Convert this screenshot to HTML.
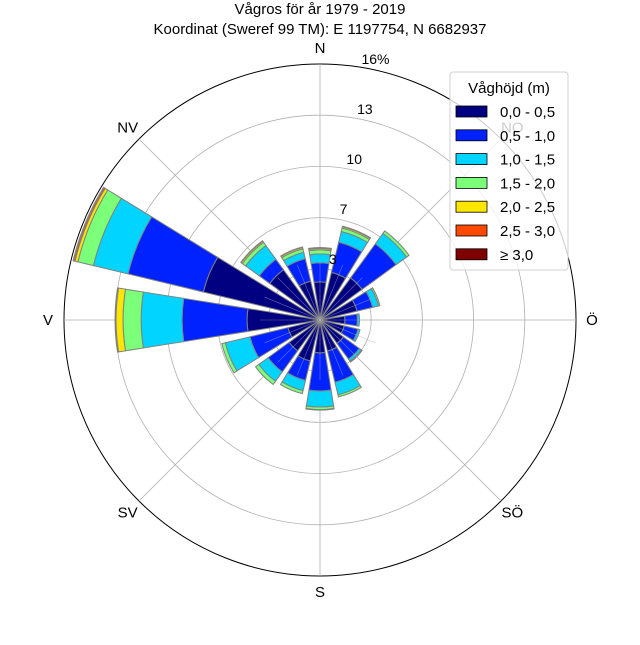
<!DOCTYPE html>
<html><head><meta charset="utf-8"><style>
body{margin:0;background:#fff;}
svg text{font-family:"Liberation Sans",sans-serif;fill:#000;}
</style></head><body>
<svg id="c" width="640" height="640" viewBox="0 0 640 640" xmlns="http://www.w3.org/2000/svg">
<rect width="640" height="640" fill="#fff"/>
<text x="320" y="14" font-size="15" text-anchor="middle">Vågros för år 1979 - 2019</text>
<text x="320" y="34" font-size="15" text-anchor="middle">Koordinat (Sweref 99 TM): E 1197754, N 6682937</text>
<g id="grid"></g>
<g id="bars"></g>
<g id="labels"></g>
<g id="legend"></g>
</svg>
<script>
const directions = ["N","NNE","NE","ENE","E","ESE","SE","SSE","S","SSW","SW","WSW","W","WNW","NW","NNW"];
const binLabels = ["0,0 - 0,5","0,5 - 1,0","1,0 - 1,5","1,5 - 2,0","2,0 - 2,5","2,5 - 3,0","≥ 3,0"];
const binColors = ["#000080","#0022ff","#00d4ff","#7cff79","#ffe600","#ff4800","#800000"];
const bin0 = [2.38,3.06,3.25,2.38,1.56,1.56,1.81,2.0,2.06,2.63,2.38,2.06,4.56,7.5,3.88,2.5];
const bin1 = [1.19,1.94,2.63,1.0,0.78,0.88,1.22,2.0,2.38,1.25,1.63,2.44,4.06,4.84,0.81,1.44];
const bin2 = [0.56,0.69,0.81,0.38,0.13,0.13,0.16,0.81,1.0,0.66,0.72,1.59,2.56,2.22,1.06,0.41];
const bin3 = [0.25,0.22,0.19,0.09,0.0,0.0,0.06,0.13,0.16,0.19,0.25,0.22,1.13,1.0,0.25,0.22];
const bin4 = [0.09,0.08,0.0,0.0,0.0,0.0,0.0,0.0,0.03,0.0,0.0,0.0,0.44,0.19,0.09,0.09];
const bin5 = [0.03,0.03,0.0,0.0,0.0,0.0,0.0,0.0,0.0,0.0,0.0,0.0,0.03,0.09,0.03,0.03];
const bin6 = [0.03,0.01,0.0,0.0,0.0,0.0,0.0,0.0,0.0,0.0,0.0,0.0,0.03,0.03,0.0,0.0];
const bins = [bin0,bin1,bin2,bin3,bin4,bin5,bin6];
const rTicks = [3.2,6.4,9.6,12.8,16];
const rTickLabels = ["3","7","10","13","16%"];
const compassLabels = ["N","NO","Ö","SÖ","S","SV","V","NV"];

const NS="http://www.w3.org/2000/svg";
const cx=320, cy=320, R=256, rMax=16;
const rScale = v => v/rMax*R;
const pt = (deg,r) => [cx + r*Math.sin(deg*Math.PI/180), cy - r*Math.cos(deg*Math.PI/180)];
function mk(tag, parent, attrs){const e=document.createElementNS(NS,tag);for(const k in attrs)e.setAttribute(k,attrs[k]);parent.appendChild(e);return e;}

const grid=document.getElementById('grid');
rTicks.forEach((t,i)=>{
  const c=mk('circle',grid,{cx:cx,cy:cy,r:rScale(t),fill:'none',stroke:i===rTicks.length-1?'#000':'#b0b0b0','stroke-width':i===rTicks.length-1?1:0.8});
  
  
});
for(let a=0;a<360;a+=45){
  const p=pt(a,R);
  const l=mk('line',grid,{x1:cx,y1:cy,x2:p[0],y2:p[1],stroke:'#b0b0b0','stroke-width':0.8});
  
  
}

const bars=document.getElementById('bars');
const step=360/directions.length, half=step*0.4;
function sector(a,r0,r1){
  const a0=a-half,a1=a+half;
  const p0=pt(a0,r1),p1=pt(a1,r1),p2=pt(a1,r0),p3=pt(a0,r0);
  return `M${p0[0]},${p0[1]} A${r1},${r1} 0 0 1 ${p1[0]},${p1[1]} L${p2[0]},${p2[1]} `+(r0>0?`A${r0},${r0} 0 0 0 ${p3[0]},${p3[1]} `:'')+'Z';
}
directions.forEach((d,i)=>{
  const a=i*step; let cum=0;
  bins.forEach((b,j)=>{
    const v=b[i]; if(v<=0) return;
    const r0=rScale(cum), r1=rScale(cum+v); cum+=v;
    const p=mk('path',bars,{d:sector(a,r0,r1),fill:binColors[j],stroke:'#808080','stroke-width':1});
    
    
  });
});
// radial spokes over bars (matplotlib draws grid above)
for(let a=0;a<360;a+=22.5){
  const p=pt(a,60);
  const l=mk('line',bars,{x1:cx,y1:cy,x2:p[0],y2:p[1],stroke:'#b0b0b0','stroke-width':0.6,opacity:0.6});
  
  
}

const labels=document.getElementById('labels');
compassLabels.forEach((t,i)=>{
  const p=pt(i*45,R+16);
  const e=mk('text',labels,{x:p[0],y:p[1]+5,'font-size':15,'text-anchor':'middle'});
  e.textContent=t;
  
  
});
rTicks.forEach((t,i)=>{
  const p=pt(12,rScale(t)+11);
  const e=mk('text',labels,{x:p[0],y:p[1]+5,'font-size':14,'text-anchor':'middle'});
  e.textContent=rTickLabels[i];
  
  
});

const lg=document.getElementById('legend');
const box=mk('rect',lg,{x:450,y:72,width:118,height:198,rx:3,fill:'#fff','fill-opacity':0.8,stroke:'#d0d0d0'});


const lt=mk('text',lg,{x:509,y:93,'font-size':15,'text-anchor':'middle'});
lt.textContent='Våghöjd (m)';


binLabels.forEach((t,j)=>{
  const y=111.5+j*23.8;
  const s=mk('rect',lg,{x:456,y:y-5.5,width:31,height:11,fill:binColors[j],stroke:'#000','stroke-width':0.8});
  
  
  const e=mk('text',lg,{x:500,y:y+5.5,'font-size':15});
  e.textContent=t;
  
  
});
</script>
</body></html>
